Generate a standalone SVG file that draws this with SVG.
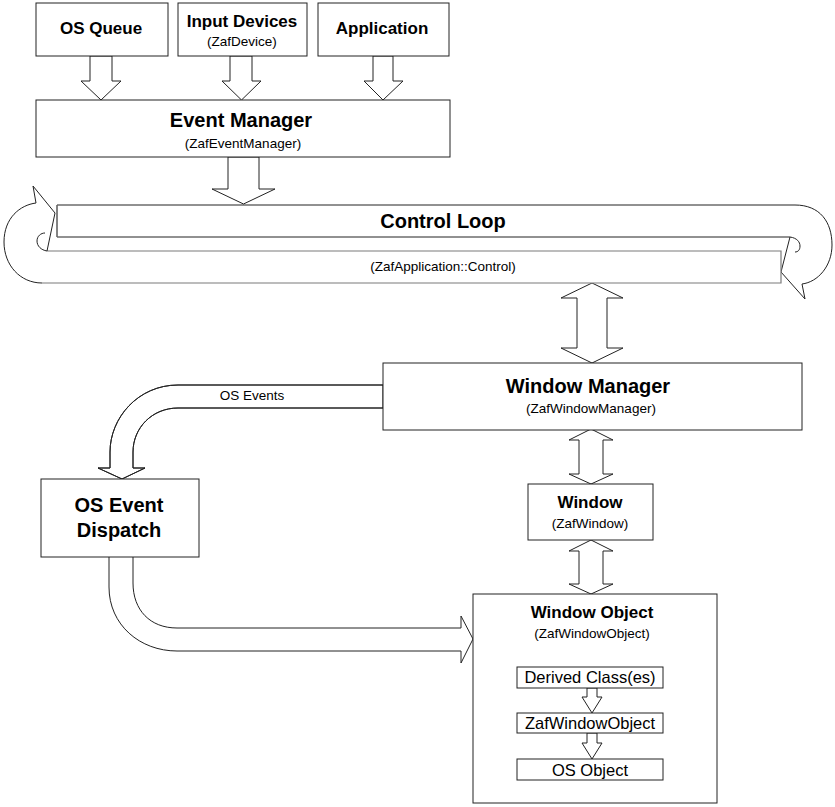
<svg xmlns="http://www.w3.org/2000/svg" width="835" height="807" viewBox="0 0 835 807">
<style>
  .box { fill: #fff; stroke: #222; stroke-width: 1; }
  .arr { fill: #fff; stroke: #222; stroke-width: 1; stroke-linejoin: miter; }
  .ln { fill: none; stroke: #222; stroke-width: 1; }
  .gl { fill: none; stroke: #7a7a7a; stroke-width: 1.2; }
  .t { font-family: "Liberation Sans", Arial, sans-serif; fill: #000; text-anchor: middle; }
  .b17 { font-size: 17px; font-weight: bold; }
  .b20 { font-size: 20px; font-weight: bold; }
  .s13 { font-size: 13.5px; }
  .s16 { font-size: 16.5px; }
</style>
<rect width="835" height="807" fill="#fff"/>

<g id="connectors">
  <!-- top arrows into Event Manager -->
  <polygon class="arr" points="90,56 112,56 112,81 121,81 101,100 81,81 90,81"/>
  <polygon class="arr" points="230,56 252,56 252,81 261,81 241.5,100 222,81 230,81"/>
  <polygon class="arr" points="373,56 393,56 393,81 403,81 383,100 364,81 373,81"/>
  <!-- Event Manager to Control Loop -->
  <polygon class="arr" points="228,157 259,157 259,189 275,189 243.5,204 212,189 228,189"/>
  <!-- Control Loop <-> Window Manager -->
  <polygon class="arr" points="592,283 623,298 607,298 607,348 623,348 592,363 561,348 577,348 577,298 561,298"/>
  <!-- Window Manager <-> Window -->
  <polygon class="arr" points="591,429 613,440 603,440 603,474 613,474 591,484 569,474 579,474 579,440 569,440"/>
  <!-- Window <-> Window Object -->
  <polygon class="arr" points="591,540 613,551 603,551 603,584 613,584 591,594 569,584 579,584 579,551 569,551"/>
  <!-- OS Events curved arrow -->
  <path class="arr" d="M383,385 H178 C138,385 110,418 110,452 V468 H98 L122,479 L145,468 H133 V452 C133,428 152,408 178,408 H383 Z" stroke="none"/>
  <path class="ln" d="M383,385 H178 C138,385 110,418 110,452 V468 H98 L122,479 L145,468 H133 V452 C133,428 152,408 178,408 H383"/>
  <text class="t s13" x="252" y="400">OS Events</text>
  <!-- OS Event Dispatch to Window Object -->
  <path class="ln" d="M109,557 V587 C109,625 140,651 177,651 H461 V663 L473,639 L461,616 V628 H177 C150,628 133,610 133,583 V557"/>
</g>

<g id="control-loop">
  <!-- upper band -->
  <path class="box" d="M57,205 H795 C820,205 832,222 832,245 C832,266 818,282 802,284 L805,299 L781,272 L790,237 H57 Z"/>
  <path class="ln" d="M790,237 C797,238 800,242 800,246 C800,250 798,252 795,252"/>
  <!-- lower band -->
  <path d="M781,251 V283 H42 C20,283 4,265 4,242 C4,218 20,205 36,203 L33,186 L55,213 L47,251 Z" fill="#fff" stroke="none"/>
  <path class="gl" d="M47,251 H781 V283 H42"/>
  <path class="ln" d="M42,283 C20,283 4,265 4,242 C4,218 20,205 36,203 L33,186 L55,213 L47,251"/>
  <path class="ln" d="M47,251 C41,250 37,246 37,241 C37,236 41,233 45,233"/>
  <line class="gl" x1="57" y1="205" x2="57" y2="237"/>
  <text class="t b20" x="443" y="228">Control Loop</text>
  <text class="t s13" x="443" y="271">(ZafApplication::Control)</text>
</g>

<g id="os-queue">
  <rect class="box" x="36" y="3" width="132" height="53"/>
  <text class="t b17" x="101" y="34">OS Queue</text>
</g>

<g id="input-devices">
  <rect class="box" x="178" y="3" width="129" height="53"/>
  <text class="t b17" x="242" y="27">Input Devices</text>
  <text class="t s13" x="242" y="46">(ZafDevice)</text>
</g>

<g id="application">
  <rect class="box" x="318" y="3" width="131" height="53"/>
  <text class="t b17" x="382" y="34">Application</text>
</g>

<g id="event-manager">
  <rect class="box" x="36" y="100" width="414" height="57"/>
  <text class="t b20" x="241" y="127">Event Manager</text>
  <text class="t s13" x="243" y="148">(ZafEventManager)</text>
</g>

<g id="window-manager">
  <rect class="box" x="383" y="363" width="419" height="67"/>
  <text class="t b20" x="588" y="393">Window Manager</text>
  <text class="t s13" x="591" y="413">(ZafWindowManager)</text>
</g>

<g id="os-event-dispatch">
  <rect class="box" x="41" y="479" width="158" height="78"/>
  <text class="t b20" x="119" y="512">OS Event</text>
  <text class="t b20" x="119" y="537">Dispatch</text>
</g>

<g id="window">
  <rect class="box" x="528" y="484" width="125" height="56"/>
  <text class="t b17" x="590" y="508">Window</text>
  <text class="t s13" x="590" y="528">(ZafWindow)</text>
</g>

<g id="window-object">
  <rect class="box" x="473" y="594" width="244" height="209"/>
  <text class="t b17" x="592" y="618">Window Object</text>
  <text class="t s13" x="592" y="638">(ZafWindowObject)</text>
  <polygon class="arr" points="587,688 597,688 597,697 602,697 592,713 582,697 587,697"/>
  <polygon class="arr" points="587,733 597,733 597,743 602,743 592,759 582,743 587,743"/>
  <g id="derived-classes">
    <rect class="box" x="517" y="667" width="146" height="21"/>
    <text class="t s16" x="590" y="683">Derived Class(es)</text>
  </g>
  <g id="zafwindowobject">
    <rect class="box" x="517" y="713" width="146" height="20"/>
    <text class="t s16" x="590" y="729">ZafWindowObject</text>
  </g>
  <g id="os-object">
    <rect class="box" x="517" y="759" width="146" height="21"/>
    <text class="t s16" x="590" y="776">OS Object</text>
  </g>
</g>
</svg>
